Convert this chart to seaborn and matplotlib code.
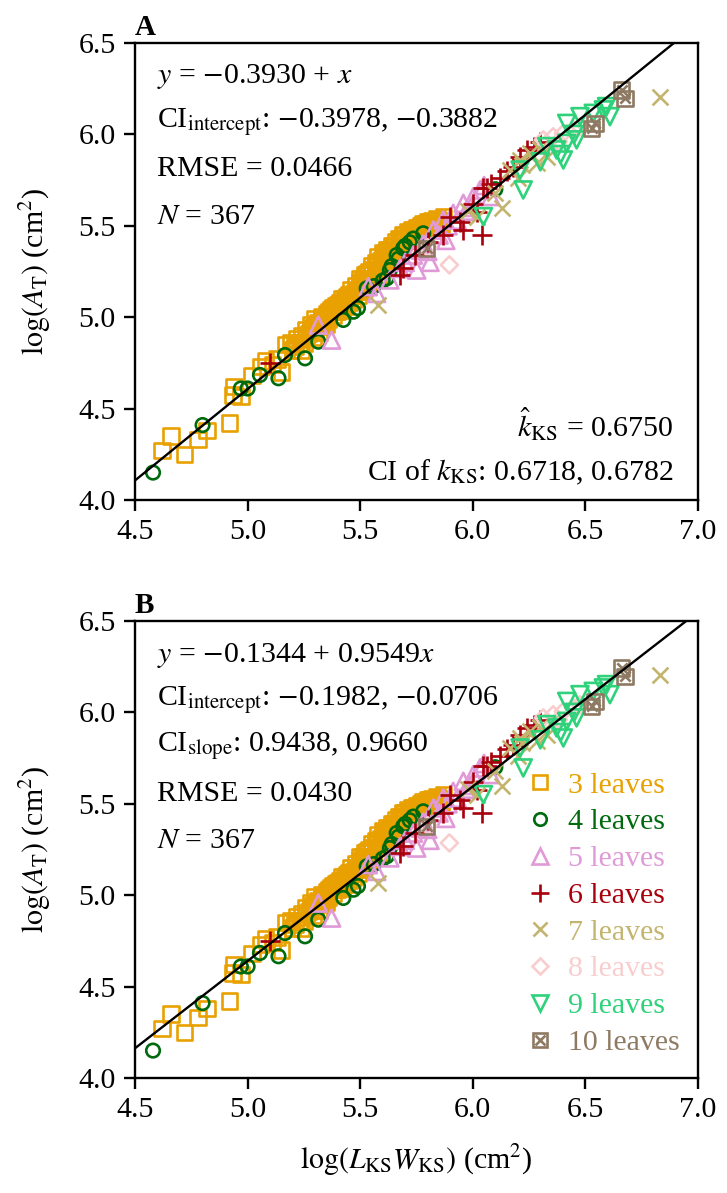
import numpy as np
import pandas as pd
import seaborn as sns
import matplotlib.pyplot as plt
from matplotlib.lines import Line2D
from matplotlib.legend_handler import HandlerTuple

# values (same points in both panels)
x_3leaves = [4.62, 4.66, 4.72, 4.78, 4.82, 4.92, 4.94, 4.935, 4.97, 5.02, 5.06, 5.11, 5.15, 5.17, 5.21, 5.24,
             5.08, 5.13, 5.19, 5.20,
             5.22, 5.24, 5.25, 5.26, 5.27, 5.28, 5.29, 5.30, 5.30, 5.31, 5.32, 5.33, 5.34, 5.35, 5.35, 5.36,
             5.37, 5.38, 5.39, 5.40, 5.41, 5.42, 5.43, 5.44, 5.45, 5.45, 5.46, 5.47, 5.48, 5.49, 5.50, 5.50,
             5.51, 5.52, 5.53, 5.54, 5.55, 5.56, 5.57, 5.58, 5.59, 5.60, 5.61, 5.62, 5.63, 5.64, 5.65, 5.66,
             5.67, 5.68, 5.69, 5.70, 5.71, 5.72, 5.73, 5.74, 5.75, 5.76, 5.77, 5.78, 5.79, 5.80, 5.81, 5.82,
             5.83, 5.84, 5.85, 5.86, 5.87,
             5.23, 5.26, 5.28, 5.31, 5.33, 5.36, 5.38, 5.40, 5.42, 5.44, 5.46, 5.48, 5.50, 5.52, 5.54, 5.55,
             5.57, 5.58, 5.60, 5.61, 5.62, 5.63, 5.64, 5.65, 5.66, 5.67, 5.68, 5.69, 5.70, 5.71, 5.72, 5.73,
             5.74, 5.75, 5.76, 5.77, 5.78, 5.79, 5.80, 5.81, 5.83, 5.84, 5.86, 5.53, 5.51, 5.47, 5.43, 5.39,
             5.34, 5.29]
y_3leaves = [4.27, 4.35, 4.25, 4.33, 4.38, 4.42, 4.62, 4.575, 4.565, 4.68, 4.73, 4.74, 4.70, 4.85, 4.84, 4.82,
             4.76, 4.77, 4.86, 4.82,
             4.88, 4.90, 4.86, 4.93, 4.91, 4.96, 4.89, 4.99, 4.94, 4.97, 4.92, 5.00, 4.97, 5.02, 4.96, 4.99,
             5.04, 5.01, 5.06, 5.03, 5.08, 5.04, 5.10, 5.06, 5.12, 5.08, 5.15, 5.10, 5.17, 5.12, 5.19, 5.14,
             5.21, 5.16, 5.24, 5.19, 5.26, 5.21, 5.28, 5.23, 5.31, 5.26, 5.34, 5.29, 5.37, 5.31, 5.39, 5.34,
             5.43, 5.37, 5.41, 5.45, 5.39, 5.46, 5.42, 5.48, 5.44, 5.49, 5.45, 5.51, 5.47, 5.52, 5.49, 5.53,
             5.50, 5.54, 5.51, 5.53, 5.55,
             4.86, 4.90, 4.92, 4.95, 4.98, 5.03, 5.05, 5.07, 5.10, 5.11, 5.12, 5.14, 5.21, 5.23, 5.25, 5.28,
             5.30, 5.33, 5.35, 5.32, 5.37, 5.33, 5.39, 5.36, 5.41, 5.38, 5.43, 5.45, 5.42, 5.47, 5.44, 5.48,
             5.45, 5.49, 5.47, 5.50, 5.48, 5.51, 5.50, 5.52, 5.52, 5.51, 5.51, 5.20, 5.18, 5.13, 5.07, 5.03,
             4.99, 4.94]
x_4leaves = [4.58, 4.80, 4.97, 5.00, 5.055, 5.137, 5.166, 5.255, 5.314, 5.425, 5.47, 5.49, 5.529, 5.56,
             5.618, 5.632, 5.662, 5.691, 5.736, 5.78, 5.60, 5.64, 5.67, 5.70, 5.72, 6.10]
y_4leaves = [4.15, 4.41, 4.61, 4.61, 4.684, 4.666, 4.793, 4.775, 4.866, 4.985, 5.03, 5.05, 5.158, 5.17,
             5.213, 5.258, 5.34, 5.377, 5.43, 5.459, 5.20, 5.28, 5.32, 5.39, 5.41, 5.70]
x_5leaves = [5.314, 5.373, 5.536, 5.573, 5.632, 5.677, 5.751, 5.81, 5.736, 5.766, 5.825, 5.869, 5.913,
             5.958, 6.002, 6.032, 5.70, 5.78, 5.85, 5.89, 5.93, 5.97, 5.99, 6.05, 6.08, 5.88, 5.80]
y_5leaves = [4.957, 4.875, 5.167, 5.13, 5.204, 5.267, 5.258, 5.30, 5.34, 5.368, 5.477, 5.532, 5.568,
             5.623, 5.659, 5.696, 5.30, 5.40, 5.45, 5.50, 5.53, 5.58, 5.60, 5.72, 5.66, 5.42, 5.36]
x_6leaves = [5.10, 5.677, 5.69, 5.743, 5.802, 5.869, 5.958, 6.04, 5.943, 6.017, 6.062, 6.047, 6.18, 6.21,
             6.239, 6.12, 6.15, 6.27, 6.30, 5.90, 6.00, 6.08]
y_6leaves = [4.75, 5.23, 5.267, 5.34, 5.413, 5.45, 5.477, 5.45, 5.523, 5.577, 5.705, 5.705, 5.823, 5.878,
             5.915, 5.76, 5.80, 5.93, 5.96, 5.55, 5.62, 5.73]
x_7leaves = [5.58, 6.128, 6.017, 6.165, 6.21, 6.254, 6.284, 6.328, 6.831, 6.10, 6.20, 6.30, 6.35, 6.22, 5.98]
y_7leaves = [5.067, 5.596, 5.55, 5.805, 5.86, 5.897, 5.842, 5.878, 6.206, 5.68, 5.76, 5.92, 5.95, 5.83, 5.58]
x_8leaves = [5.896, 6.313, 6.357, 6.402, 6.447, 6.476, 5.80, 6.38]
y_8leaves = [5.286, 5.97, 5.987, 6.006, 6.024, 6.042, 5.38, 5.96]
x_9leaves = [6.047, 6.224, 6.21, 6.328, 6.372, 6.402, 6.417, 6.461, 6.417, 6.476, 6.535, 6.58, 6.609,
             6.594, 6.39, 6.30, 6.45]
y_9leaves = [5.55, 5.696, 5.805, 5.933, 5.915, 5.86, 5.951, 5.97, 6.06, 6.097, 6.115, 6.134, 6.097,
             6.152, 5.89, 5.85, 6.00]
x_10leaves = [5.795, 6.528, 6.543, 6.661, 6.676]
y_10leaves = [5.377, 6.033, 6.06, 6.243, 6.197]

group_labels = ['3 leaves', '4 leaves', '5 leaves', '6 leaves', '7 leaves', '8 leaves', '9 leaves', '10 leaves']
group_colors = ['#E8A100', '#006A0E', '#E09AD8', '#A8000C', '#C3B46F', '#F9CDCD', '#2ED27A', '#8E7A62']
group_markers = ['s', 'o', '^', '+', 'x', 'D', 'v', 's']
group_sizes = [125, 95, 150, 190, 130, 75, 150, 125]

# fitted lines: (intercept, slope)
fit_A = (-0.3930, 1.0)
fit_B = (-0.1344, 0.9549)

xs = [x_3leaves, x_4leaves, x_5leaves, x_6leaves, x_7leaves, x_8leaves, x_9leaves, x_10leaves]
ys = [y_3leaves, y_4leaves, y_5leaves, y_6leaves, y_7leaves, y_8leaves, y_9leaves, y_10leaves]
df = pd.concat([pd.DataFrame({'x': a, 'y': b, 'group': g}) for a, b, g in zip(xs, ys, group_labels)],
               ignore_index=True)

sns.set_style('ticks')
plt.rcParams['font.family'] = ['Liberation Serif', 'DejaVu Serif']
plt.rcParams['mathtext.fontset'] = 'stix'
plt.rcParams['axes.unicode_minus'] = True
for k in ['text.color', 'axes.labelcolor', 'xtick.color', 'ytick.color', 'axes.edgecolor']:
    plt.rcParams[k] = 'black'

FS = 21.5
LW = 1.9

fig = plt.figure(figsize=(7.27, 11.93), dpi=100)
ax1 = fig.add_axes([0.1857, 1 - 500 / 1193, 0.7744, 457 / 1193])
ax2 = fig.add_axes([0.1857, 1 - 1078 / 1193, 0.7744, 457 / 1193])


def draw_points(ax):
    for g, c, m, s in zip(group_labels, group_colors, group_markers, group_sizes):
        sub = df[df['group'] == g]
        if m in ('+', 'x'):
            sns.scatterplot(data=sub, x='x', y='y', ax=ax, marker=m, s=s, color=c,
                            linewidth=LW, legend=False, zorder=3)
        else:
            sns.scatterplot(data=sub, x='x', y='y', ax=ax, marker=m, s=s, color=c,
                            facecolor='none', edgecolor=c, linewidth=LW, legend=False, zorder=3)
        if g == '10 leaves':
            sns.scatterplot(data=sub, x='x', y='y', ax=ax, marker='x', s=55, color=c,
                            linewidth=LW, legend=False, zorder=3)


def draw_fit(ax, fit):
    xl = np.array([4.5, 7.0])
    sns.lineplot(x=xl, y=fit[0] + fit[1] * xl, ax=ax, color='black', linewidth=1.7, zorder=4)


def style_axes(ax):
    ax.set_xlim(4.5, 7.0)
    ax.set_ylim(4.0, 6.5)
    ax.set_xticks([4.5, 5.0, 5.5, 6.0, 6.5, 7.0])
    ax.set_yticks([4.0, 4.5, 5.0, 5.5, 6.0, 6.5])
    ax.set_xticklabels(['4.5', '5.0', '5.5', '6.0', '6.5', '7.0'])
    ax.set_yticklabels(['4.0', '4.5', '5.0', '5.5', '6.0', '6.5'])
    ax.tick_params(labelsize=FS, length=8, width=1.7, pad=6, direction='out', colors='black')
    for sp in ax.spines.values():
        sp.set_visible(True)
        sp.set_linewidth(1.7)
        sp.set_color('black')
    ax.set_ylabel(r'$\log(A_{\rm T})$ (cm$^2$)', fontsize=FS, labelpad=18)
    ax.set_xlabel('')


for ax, fit in [(ax1, fit_A), (ax2, fit_B)]:
    draw_points(ax)
    draw_fit(ax, fit)
    style_axes(ax)

ax2.set_xlabel(r'$\log(L_{\rm KS}W_{\rm KS})$ (cm$^2$)', fontsize=FS, labelpad=14)

# panel A texts
tA = [r'$y$ = $-$0.3930 + $x$', r'CI$_{\rm intercept}$: $-$0.3978, $-$0.3882', 'RMSE = 0.0466', r'$N$ = 367']
posA = [0.912, 0.816, 0.708, 0.605]
for t, p in zip(tA, posA):
    ax1.text(0.039, p, t, transform=ax1.transAxes, fontsize=FS, ha='left', va='baseline')
ax1.text(0.956, 0.138, r'$\hat{k}_{\rm KS}$ = 0.6750', transform=ax1.transAxes, fontsize=FS,
         ha='right', va='baseline')
ax1.text(0.956, 0.044, r'CI of $k_{\rm KS}$: 0.6718, 0.6782', transform=ax1.transAxes, fontsize=FS,
         ha='right', va='baseline')

# panel B texts
tB = [r'$y$ = $-$0.1344 + 0.9549$x$', r'CI$_{\rm intercept}$: $-$0.1982, $-$0.0706',
      r'CI$_{\rm slope}$: 0.9438, 0.9660', 'RMSE = 0.0430', r'$N$ = 367']
posB = [0.911, 0.816, 0.716, 0.607, 0.503]
for t, p in zip(tB, posB):
    ax2.text(0.039, p, t, transform=ax2.transAxes, fontsize=FS, ha='left', va='baseline')

ax1.text(0.0, 1.035, 'A', transform=ax1.transAxes, fontsize=21, fontweight='bold', ha='left', va='center')
ax2.text(0.0, 1.035, 'B', transform=ax2.transAxes, fontsize=21, fontweight='bold', ha='left', va='center')

# legend in panel B
handles = []
leg_ms = [10, 9, 11, 13, 10, 8, 11, 10]
for g, c, m, ms in zip(group_labels, group_colors, group_markers, leg_ms):
    h = Line2D([], [], linestyle='none', marker=m, markersize=ms, markerfacecolor='none',
               markeredgecolor=c, color=c, markeredgewidth=LW)
    if g == '10 leaves':
        hx = Line2D([], [], linestyle='none', marker='x', markersize=6.5, color=c, markeredgewidth=LW)
        h = (h, hx)
    handles.append(h)
leg = ax2.legend(handles, group_labels, loc='upper left', bbox_to_anchor=(0.693, 0.670),
                 frameon=False, fontsize=FS, handlelength=1.0, handletextpad=0.43,
                 labelspacing=0.33, borderaxespad=0.0, borderpad=0.0,
                 handler_map={tuple: HandlerTuple(ndivide=1)})
for txt, c in zip(leg.get_texts(), group_colors):
    txt.set_color(c)

fig.savefig('out.png', dpi=100)
